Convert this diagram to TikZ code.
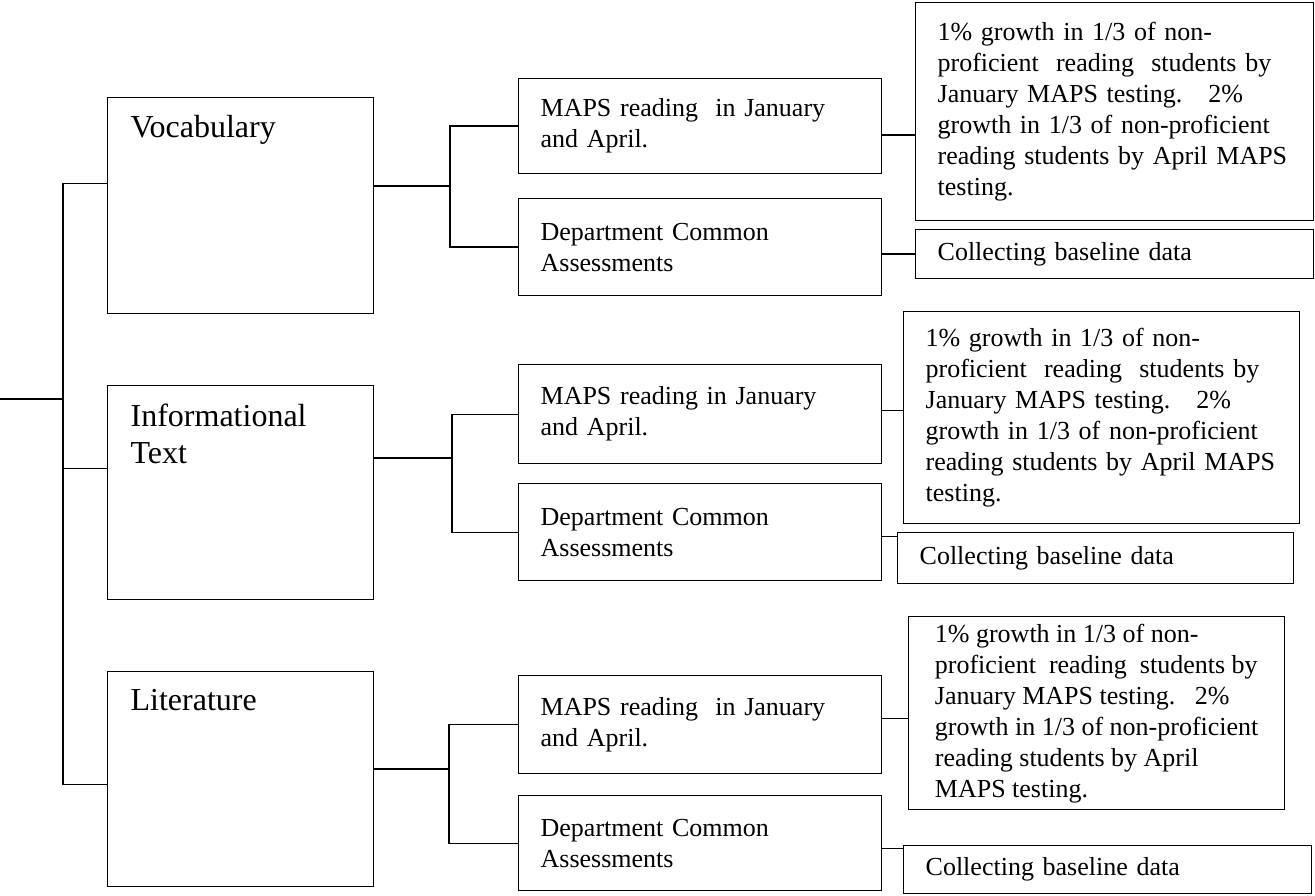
\documentclass[tikz,border=0pt]{standalone}
\usepackage{fontspec}
\setmainfont{Liberation Serif}
\usepackage{tikz}
\usetikzlibrary{positioning}
\newcommand{\bigtext}{\fontsize{32}{37}\selectfont}
\newcommand{\smalltext}{\fontsize{26}{31}\selectfont}
\tikzstyle{Topic} = [
draw,
line width=1.3pt,
anchor=north west,
inner xsep=23pt, inner ysep=18pt,
font=\bigtext]
\tikzstyle{Box} = [
draw,
line width=1.3pt,
anchor=north west,
inner xsep=22pt, inner ysep=0pt,
align=left,
font=\smalltext]
\tikzstyle{Line} = [line width=1.3pt]

\begin{document}
\begin{tikzpicture}[x=1pt, y=-1pt]
    \useasboundingbox (0,0) rectangle (1315,896);

    % goals
    \node [Topic] (1) at (107,97) {\parbox[t][180pt][t]{220pt}{Vocabulary}};
    \node [Topic] (2) at (107,385) {\parbox[t][178pt][t]{220pt}{Informational\\Text}};
    \node [Topic] (3) at (107,671) {\parbox[t][179pt][t]{220pt}{Literature}};

    % measures
    \node [Box, text width=319pt, minimum height=95pt] (11) at (518,78) {MAPS reading\ \ in January\\and April.};
    \node [Box, text width=319pt, minimum height=97pt] (12) at (518,198) {Department Common\\Assessments};
    \node [Box, text width=319pt, minimum height=99pt] (21) at (518,364) {MAPS reading in January\\and April.};
    \node [Box, text width=319pt, minimum height=97pt] (22) at (518,483) {Department Common\\Assessments};
    \node [Box, text width=319pt, minimum height=98pt] (31) at (518,675) {MAPS reading\ \ in January\\and April.};
    \node [Box, text width=319pt, minimum height=95pt] (32) at (518,795) {Department Common\\Assessments};

    % targets
    \node [Box, text width=354pt, minimum height=218pt] (111) at (915,2) {1\% growth in 1/3 of non-\\proficient\ \ reading\ \ students by\\January MAPS testing.\ \ \ 2\%\\growth in 1/3 of non-proficient\\reading students by April MAPS\\testing.};
    \node [Box, text width=354pt, minimum height=49pt] (121) at (915,229) {Collecting baseline data};
    \node [Box, text width=352pt, minimum height=212pt] (211) at (903,311) {1\% growth in 1/3 of non-\\proficient\ \ reading\ \ students by\\January MAPS testing.\ \ \ 2\%\\growth in 1/3 of non-proficient\\reading students by April MAPS\\testing.};
    \node [Box, text width=352pt, minimum height=51pt] (221) at (897,532) {Collecting baseline data};
    \node [Box, minimum width=376pt, minimum height=193pt] (311) at (908,616) {1\% growth in 1/3 of non-\\proficient\ \ reading\ \ students by\\January MAPS testing.\ \ \ 2\%\\growth in 1/3 of non-proficient\\reading students by April\\MAPS testing.};
    \node [Box, text width=364pt, minimum height=48pt] (321) at (903,845) {Collecting baseline data};

    \coordinate (root) at (0,399);
    \coordinate (t) at (63,399);
    \coordinate (b1) at (450,186);
    \coordinate (b2) at (452,458);
    \coordinate (b3) at (449,769);

    % trunk
    \draw[Line] (root) -- (t);
    \draw[Line] ([yshift=22pt]1.west) -| (t);
    \draw[Line] ([yshift=24pt]2.west) -| (t);
    \draw[Line] ([yshift=-5pt]3.west) -| (t);

    % brackets
    \draw[Line] (1.east |- b1) -- (b1);
    \draw[Line] (11.west) -| (b1) |- (12.west);
    \draw[Line] (2.east |- b2) -- (b2);
    \draw[Line] (21.west) -| (b2) |- (22.west);
    \draw[Line] (3.east |- b3) -- (b3);
    \draw[Line] (31.west) -| (b3) |- (32.west);

    % measure to target
    \draw[Line] ([yshift=-9pt]11.east) -- ([yshift=-9pt]11.east -| 111.west);
    \draw[Line] ([yshift=-7pt]12.east) -- ([yshift=-7pt]12.east -| 121.west);
    \draw[Line] ([yshift=4pt]21.east) -- ([yshift=4pt]21.east -| 211.west);
    \draw[Line] ([yshift=-4pt]22.east) -- ([yshift=-4pt]22.east -| 221.west);
    \draw[Line] ([yshift=6pt]31.east) -- ([yshift=6pt]31.east -| 311.west);
    \draw[Line] ([yshift=-5pt]32.east) -- ([yshift=-5pt]32.east -| 321.west);
\end{tikzpicture}
\end{document}
